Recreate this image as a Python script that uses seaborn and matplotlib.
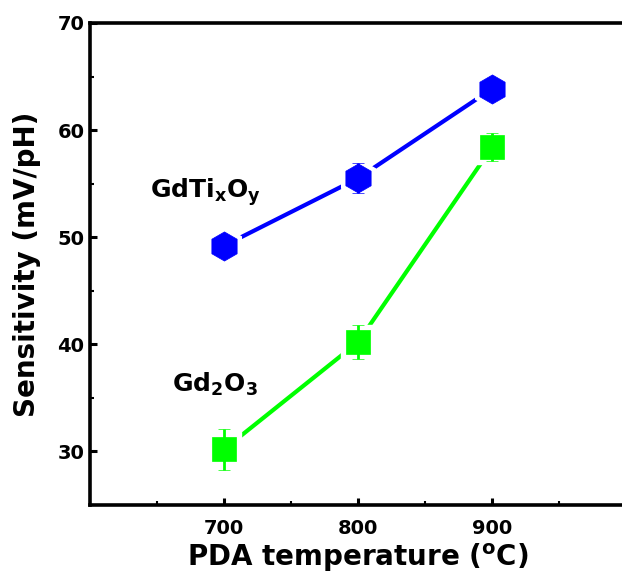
import pandas as pd
import matplotlib
matplotlib.use("Agg")
import matplotlib.pyplot as plt
import seaborn as sns
from matplotlib.ticker import MultipleLocator

# --- data ---
temps = [700, 800, 900]
gdtio_sens = [49.2, 55.5, 63.85]
gdtio_err = [0.6, 1.4, 0.6]
gd2o3_sens = [30.2, 40.2, 58.4]
gd2o3_err = [1.9, 1.6, 1.3]
films = ["GdTixOy", "Gd2O3"]
film_colors = {"GdTixOy": "#0000FF", "Gd2O3": "#00FF00"}
film_markers = {"GdTixOy": "h", "Gd2O3": "s"}
film_msize = {"GdTixOy": 21, "Gd2O3": 17}
x_ticks = [700, 800, 900]
y_ticks = [30, 40, 50, 60, 70]

df = pd.DataFrame({
    "temp": temps * 2,
    "sens": gdtio_sens + gd2o3_sens,
    "err": gdtio_err + gd2o3_err,
    "film": [films[0]] * 3 + [films[1]] * 3,
})

sns.set_style("ticks")
plt.rcParams["font.family"] = ["DejaVu Sans"]
plt.rcParams["font.weight"] = "bold"
plt.rcParams["mathtext.fontset"] = "custom"
plt.rcParams["mathtext.rm"] = "DejaVu Sans:bold"
plt.rcParams["mathtext.it"] = "DejaVu Sans:bold"
plt.rcParams["mathtext.bf"] = "DejaVu Sans:bold"
plt.rcParams["mathtext.default"] = "rm"
for key in ["text.color", "axes.labelcolor", "xtick.color", "ytick.color",
            "axes.edgecolor"]:
    plt.rcParams[key] = "black"

fig = plt.figure(figsize=(6.22, 5.74), dpi=100)
ax = fig.add_axes([90 / 622, 69 / 574, 536 / 622, 482 / 574])

# connecting lines
sns.lineplot(data=df, x="temp", y="sens", hue="film", palette=film_colors,
             linewidth=3, legend=False, ax=ax, zorder=1)

for film in films:
    sub = df[df["film"] == film]
    # white halo so the lines stop short of the symbols
    ax.plot(sub["temp"], sub["sens"], linestyle="none",
            marker=film_markers[film], markersize=film_msize[film] + 7,
            markerfacecolor="white", markeredgecolor="white", zorder=2)
    ax.errorbar(sub["temp"], sub["sens"], yerr=sub["err"], fmt=film_markers[film],
                color=film_colors[film], markersize=film_msize[film],
                markeredgewidth=0.5, elinewidth=2, capsize=4.5, capthick=2.2,
                zorder=3)

ax.set_xlim(600, 1000)
ax.set_ylim(25, 70)
ax.set_xticks(x_ticks)
ax.set_yticks(y_ticks)
ax.xaxis.set_minor_locator(MultipleLocator(50))
ax.yaxis.set_minor_locator(MultipleLocator(5))

for side in ["left", "bottom", "top", "right"]:
    ax.spines[side].set_linewidth(2.6)

ax.tick_params(axis="both", which="major", direction="in", length=5, width=2.2,
               labelsize=14, pad=4)
ax.tick_params(axis="x", which="major", pad=10)
ax.tick_params(axis="both", which="minor", direction="in", length=3, width=1.5)
for lab in ax.get_xticklabels() + ax.get_yticklabels():
    lab.set_fontweight("bold")

ax.set_xlabel("PDA temperature ($^{\\mathrm{o}}$C)", fontsize=20, fontweight="bold",
              labelpad=3)
ax.set_ylabel("Sensitivity (mV/pH)", fontsize=20, fontweight="bold", labelpad=12)

ax.text(645, 53.7, "GdTi$_{x}$O$_{y}$", fontsize=18, fontweight="bold",
        ha="left", va="baseline")
ax.text(661, 35.6, "Gd$_{2}$O$_{3}$", fontsize=18, fontweight="bold",
        ha="left", va="baseline")

fig.savefig("out.png", dpi=100)
